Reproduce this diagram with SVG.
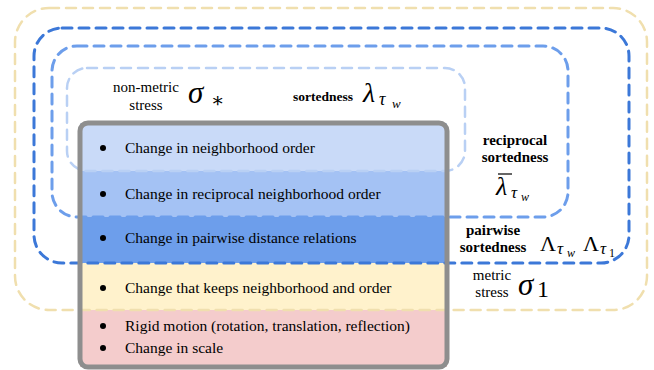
<svg xmlns="http://www.w3.org/2000/svg" width="654" height="370" viewBox="0 0 654 370">
<style>
text{font-family:"Liberation Serif","Times New Roman",Times,"DejaVu Serif",serif;fill:#000}
.b{font-size:15.5px}
.lbl{font-size:15px}
.bold{font-size:15px;font-weight:bold}
.i{font-style:italic}
.d{fill:none;stroke-dasharray:10 7;stroke-linecap:round}
</style>
<rect width="654" height="370" fill="#fff"/>
<g id="box-bands">
<rect x="80" y="123" width="367" height="48" fill="#c9daf8"/>
<rect x="80" y="171" width="367" height="46" fill="#a4c2f4"/>
<rect x="80" y="217" width="367" height="46" fill="#6d9eeb"/>
<rect x="80" y="263" width="367" height="47" fill="#fff2cc"/>
<rect x="80" y="310" width="367" height="57" fill="#f4cccc"/>
</g>
<g id="connectors">
<rect id="metric-stress-region" class="d" x="15" y="8" width="632" height="302" rx="34" stroke="#f0dfae" stroke-width="2.5"/>
<rect id="pairwise-region" class="d" x="34" y="28" width="595" height="235" rx="28" stroke="#3c78d8" stroke-width="3"/>
<rect id="reciprocal-region" class="d" x="52" y="46" width="516" height="171" rx="25" stroke="#6d9eeb" stroke-width="3"/>
<rect id="sortedness-region" class="d" x="67" y="68" width="398" height="103" rx="20" stroke="#b9d0f4" stroke-width="2.5"/>
</g>
<g id="box-frame">
<rect x="80" y="123" width="367" height="244" rx="8" fill="none" stroke="#8e8e8e" stroke-width="5"/>
</g>
<g id="band1">
<circle cx="103" cy="148" r="3"/>
<text class="b" x="125" y="153">Change in neighborhood order</text>
</g>
<g id="band2">
<circle cx="103" cy="194" r="3"/>
<text class="b" x="125" y="199">Change in reciprocal neighborhood order</text>
</g>
<g id="band3">
<circle cx="103" cy="238" r="3"/>
<text class="b" x="125" y="243">Change in pairwise distance relations</text>
</g>
<g id="band4">
<circle cx="103" cy="288" r="3"/>
<text class="b" x="125" y="293">Change that keeps neighborhood and order</text>
</g>
<g id="band5">
<circle cx="103" cy="326" r="3"/>
<text class="b" x="125" y="331">Rigid motion (rotation, translation, reflection)</text>
<circle cx="103" cy="348" r="3"/>
<text class="b" x="125" y="353">Change in scale</text>
</g>
<g id="label-nonmetric">
<text class="lbl" x="146" y="92" text-anchor="middle">non-metric</text>
<text class="lbl" x="146" y="110" text-anchor="middle">stress</text>
<text class="i" x="188" y="103" font-size="31">σ</text>
<text x="211" y="107" font-size="20">∗</text>
</g>
<g id="label-sortedness">
<text class="bold" x="293" y="101" style="font-size:13.5px">sortedness</text>
<text class="i" x="363" y="102" font-size="28">λ</text>
<text class="i" x="379" y="105" font-size="18">τ</text>
<text class="i" x="392" y="108" font-size="13">w</text>
</g>
<g id="label-reciprocal">
<text class="bold" x="515" y="145" text-anchor="middle">reciprocal</text>
<text class="bold" x="515" y="162" text-anchor="middle">sortedness</text>
<line x1="498" y1="174" x2="512" y2="174" stroke="#000" stroke-width="1.2"/>
<text class="i" x="496" y="195" font-size="26">λ</text>
<text class="i" x="511" y="198" font-size="17">τ</text>
<text class="i" x="521" y="201" font-size="12">w</text>
</g>
<g id="label-pairwise">
<text class="bold" x="493" y="235" text-anchor="middle">pairwise</text>
<text class="bold" x="493" y="252" text-anchor="middle">sortedness</text>
<text x="540" y="251" font-size="22">Λ</text>
<text class="i" x="557" y="254" font-size="17">τ</text>
<text class="i" x="567" y="257" font-size="12">w</text>
<text x="583" y="251" font-size="22">Λ</text>
<text class="i" x="600" y="254" font-size="17">τ</text>
<text x="609" y="257" font-size="12">1</text>
</g>
<g id="label-metric">
<text class="lbl" x="492" y="280" text-anchor="middle">metric</text>
<text class="lbl" x="492" y="297" text-anchor="middle">stress</text>
<text class="i" x="518" y="295" font-size="31">σ</text>
<text x="537" y="297" font-size="24">1</text>
</g>
</svg>
